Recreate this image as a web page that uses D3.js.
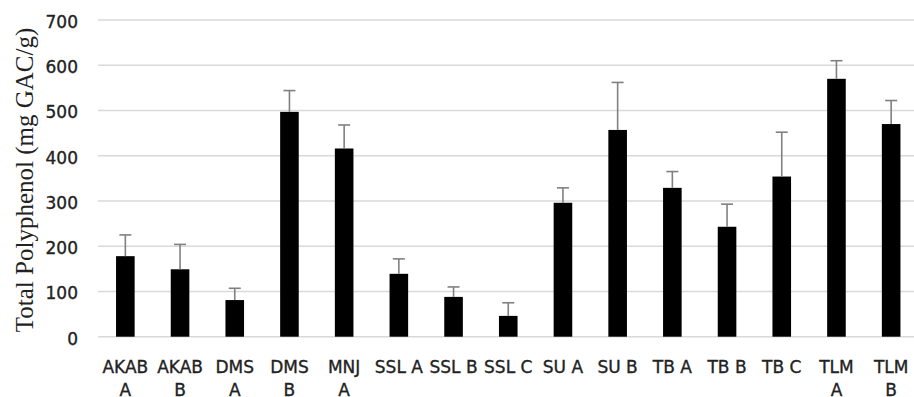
<!DOCTYPE html>
<html>
<head>
<meta charset="utf-8">
<script src="https://cdnjs.cloudflare.com/ajax/libs/d3/7.8.5/d3.min.js"></script>
<style>
  body { margin: 0; background: #fff; }
  svg { display: block; }
</style>
</head>
<body>
<div id="chart"></div>
<script>
// samples, mean total polyphenol and error (SD)
var categories = ["AKAB A", "AKAB B", "DMS A", "DMS B", "MNJ A", "SSL A", "SSL B", "SSL C",
                  "SU A", "SU B", "TB A", "TB B", "TB C", "TLM A", "TLM B"];
var tickLabels = [["AKAB", "A"], ["AKAB", "B"], ["DMS", "A"], ["DMS", "B"], ["MNJ", "A"],
                  ["SSL A"], ["SSL B"], ["SSL C"], ["SU A"], ["SU B"], ["TB A"], ["TB B"], ["TB C"],
                  ["TLM", "A"], ["TLM", "B"]];
var means = [178, 149, 81, 497, 416, 139, 88, 46, 296, 457, 329, 243, 354, 570, 470];
var errors = [47, 55, 26, 47, 52, 33, 22, 29, 33, 105, 36, 50, 98, 40, 52];
var yTicks = [0, 100, 200, 300, 400, 500, 600, 700];

var width = 914, height = 397;
var plotLeft = 98, plotRight = 918.5, plotTop = 20, plotBottom = 336.7;

var svg = d3.select("#chart").append("svg")
    .attr("width", width)
    .attr("height", height);

var x = d3.scaleBand()
    .domain(categories)
    .range([plotLeft, plotRight])
    .paddingInner(0.66)
    .paddingOuter(0.33);

var y = d3.scaleLinear()
    .domain([0, 700])
    .range([plotBottom, plotTop]);

// gridlines
svg.append("g")
    .selectAll("line")
    .data(yTicks)
  .enter().append("line")
    .attr("x1", plotLeft)
    .attr("x2", width)
    .attr("y1", function(d) { return y(d); })
    .attr("y2", function(d) { return y(d); })
    .attr("stroke", "#d9d9d9")
    .attr("stroke-width", 1.5);

// y tick labels
svg.append("g")
    .selectAll("text")
    .data(yTicks)
  .enter().append("text")
    .attr("x", 78)
    .attr("y", function(d) { return y(d) + 8; })
    .attr("text-anchor", "end")
    .style("font-family", "'DejaVu Sans', sans-serif")
    .style("font-size", "17px")
    .style("fill", "#222")
    .style("stroke", "#222")
    .style("stroke-width", 0.35)
    .text(function(d) { return d; });

// bars
svg.append("g")
    .selectAll("rect")
    .data(categories)
  .enter().append("rect")
    .attr("x", function(d) { return x(d); })
    .attr("width", x.bandwidth())
    .attr("y", function(d, i) { return y(means[i]); })
    .attr("height", function(d, i) { return y(0) - y(means[i]); })
    .attr("fill", "#000");

// error bars (upper only)
var eb = svg.append("g")
    .selectAll("g")
    .data(categories)
  .enter().append("g")
    .attr("stroke", "#808080")
    .attr("stroke-width", 1.6);

eb.append("line")
    .attr("x1", function(d) { return x(d) + x.bandwidth() / 2; })
    .attr("x2", function(d) { return x(d) + x.bandwidth() / 2; })
    .attr("y1", function(d, i) { return y(means[i]); })
    .attr("y2", function(d, i) { return y(means[i] + errors[i]); });

eb.append("line")
    .attr("x1", function(d) { return x(d) + x.bandwidth() / 2 - 6; })
    .attr("x2", function(d) { return x(d) + x.bandwidth() / 2 + 6; })
    .attr("y1", function(d, i) { return y(means[i] + errors[i]); })
    .attr("y2", function(d, i) { return y(means[i] + errors[i]); });

// x labels
var xl = svg.append("g")
    .selectAll("text")
    .data(categories)
  .enter().append("text")
    .attr("text-anchor", "middle")
    .style("font-family", "'DejaVu Sans', sans-serif")
    .style("font-size", "17px")
    .style("fill", "#222")
    .style("stroke", "#222")
    .style("stroke-width", 0.35);

xl.each(function(d, i) {
  var t = d3.select(this);
  tickLabels[i].forEach(function(line, j) {
    t.append("tspan")
      .attr("x", x(d) + x.bandwidth() / 2)
      .attr("y", 373 + j * 23)
      .text(line);
  });
});

// y axis title
svg.append("text")
    .attr("transform", "translate(33,180) rotate(-90)")
    .attr("text-anchor", "middle")
    .style("font-family", "'Liberation Serif', 'Times New Roman', serif")
    .style("font-size", "25px")
    .style("fill", "#222")
    .text("Total Polyphenol (mg GAC/g)");
</script>
</body>
</html>
